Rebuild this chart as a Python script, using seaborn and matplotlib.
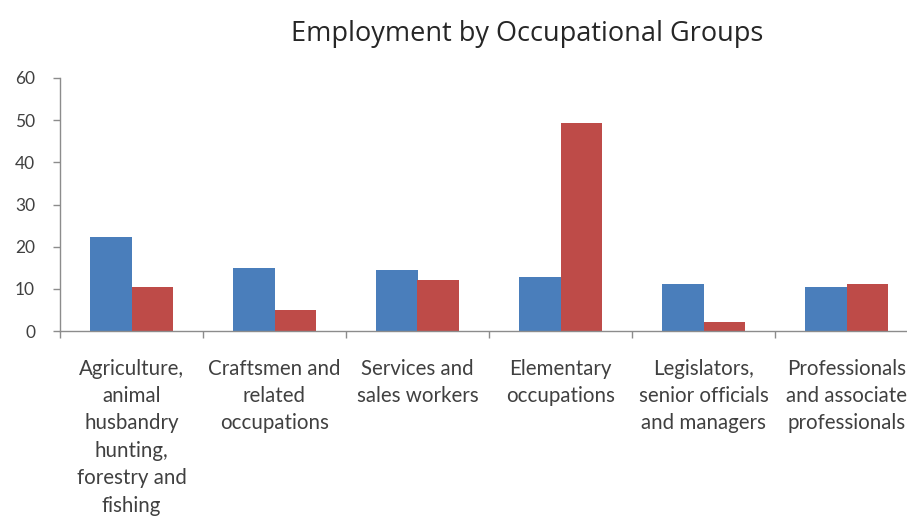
import matplotlib
matplotlib.use("Agg")
import matplotlib.pyplot as plt
import seaborn as sns
import pandas as pd
import numpy as np

# Occupational groups (multi-line labels as shown under the axis)
categories = [
    "Agriculture,\nanimal\nhusbandry\nhunting,\nforestry and\nfishing",
    "Craftsmen and\nrelated\noccupations",
    "Services and\nsales workers",
    "Elementary\noccupations",
    "Legislators,\nsenior officials\nand managers",
    "Professionals\nand associate\nprofessionals",
]
series_names = ["Series 1", "Series 2"]
series1 = [22.3, 14.9, 14.5, 12.8, 11.1, 10.5]
series2 = [10.4, 5.0, 12.1, 49.4, 2.1, 11.1]
y_ticks = [0, 10, 20, 30, 40, 50, 60]

df = pd.DataFrame({
    "group": categories * 2,
    "series": [series_names[0]] * len(categories) + [series_names[1]] * len(categories),
    "value": series1 + series2,
})

sns.set_theme(style="white")
plt.rcParams["font.family"] = ["Lato", "DejaVu Sans"]

W, H, DPI = 907, 516, 100
fig = plt.figure(figsize=(W / DPI, H / DPI), dpi=DPI)
# plot area: left at x=60, bottom at y=331, top at y=78; six 143px-wide slots
left, right, top, bottom = 60, 60 + 6 * 143, 78, 331
ax = fig.add_axes([left / W, 1 - bottom / H, (right - left) / W, (bottom - top) / H])

palette = {series_names[0]: "#4A7EBB", series_names[1]: "#BE4B48"}
sns.barplot(data=df, x="group", y="value", hue="series", order=categories,
            hue_order=series_names, palette=palette, width=0.575,
            saturation=1, linewidth=0, ax=ax, legend=False)

ax.set_xlim(-0.5, len(categories) - 0.5)
ax.set_ylim(0, 60)
ax.set_yticks(y_ticks)
ax.set_xlabel("")
ax.set_ylabel("")

axis_gray = "#8C8C8C"
for s in ["top", "right"]:
    ax.spines[s].set_visible(False)
for s in ["left", "bottom"]:
    ax.spines[s].set_color(axis_gray)
    ax.spines[s].set_linewidth(1.0)

ax.tick_params(axis="y", which="major", direction="out", length=5, width=1,
               color=axis_gray, labelsize=12.5, labelcolor="#404040", pad=13, left=True)
ax.set_yticklabels([str(v) for v in y_ticks])

# category labels at slot centres, tick marks on slot boundaries
ax.set_xticks(np.arange(len(categories)))
ax.set_xticklabels(categories, fontsize=14.8, color="#404040", linespacing=1.46,
                   va="top")
ax.tick_params(axis="x", which="major", length=0, pad=20)
ax.set_xticks(np.arange(len(categories) + 1) - 0.5, minor=True)
ax.tick_params(axis="x", which="minor", direction="out", length=5, width=1,
               color=axis_gray, bottom=True)

fig.text(527 / W, 1 - 34 / H, "Employment by Occupational Groups",
         ha="center", va="center", fontsize=19.5, color="#262626",
         family=["Open Sans", "DejaVu Sans"])

fig.savefig("out.png", dpi=DPI, facecolor="white")
